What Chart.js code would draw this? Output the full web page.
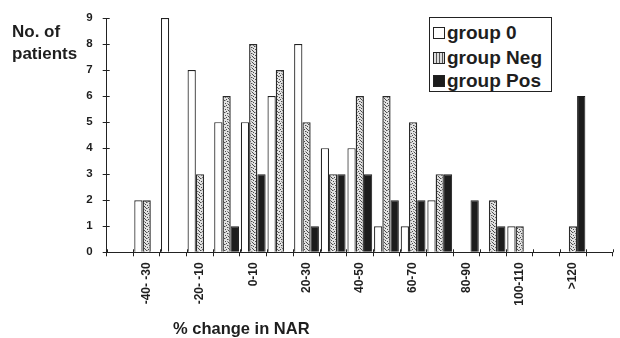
<!DOCTYPE html>
<html><head><meta charset="utf-8">
<script src="https://cdn.jsdelivr.net/npm/chart.js@4/dist/chart.umd.min.js"></script>
<style>
html,body{margin:0;padding:0;background:#fff;}
#wrap{position:relative;width:620px;height:338px;overflow:hidden;}
#c{position:absolute;left:0;top:0;}
.t{position:absolute;font-family:"Liberation Sans",Arial,sans-serif;font-weight:bold;color:#1e1e1e;white-space:nowrap;}
#legend{position:absolute;left:429px;top:17px;width:121px;height:73px;border:1.5px solid #222;background:#fff;font-family:"Liberation Sans",Arial,sans-serif;font-weight:bold;font-size:19px;color:#1e1e1e;}
#legend .row{position:absolute;left:3px;height:22px;line-height:22px;white-space:nowrap;}
#legend .sw{display:inline-block;width:10px;height:10px;border:1.2px solid #222;vertical-align:middle;margin-right:2px;position:relative;top:-1px;}
</style></head><body>
<div id="wrap">
<canvas id="c" width="620" height="338"></canvas>
<div class="t" style="left:12px;top:21px;font-size:17px;line-height:22px;">No. of<br>patients</div>
<div class="t" style="left:173px;top:319px;font-size:16.5px;">% change in NAR</div>
<div id="legend"></div>
</div>
<script>
// ---- data ----
const categories = ["-50- -40","-40- -30","-30- -20","-20- -10","-10- 0","0-10","10-20","20-30","30-40","40-50","50-60","60-70","70-80","80-90","90-100","100-110","110-120",">120",""];
const seriesNames = ["group 0","group Neg","group Pos"];
const group0   = [0,2,9,7,5,5,6,8,4,4,1,1,2,0,0,1,0,0,0];
const groupNeg = [0,2,0,3,6,8,7,5,3,6,6,5,3,0,2,1,0,1,0];
const groupPos = [0,0,0,0,1,3,0,1,3,3,2,2,3,2,1,0,0,6,0];
const yTicks = [0,1,2,3,4,5,6,7,8,9];

// stipple pattern for group Neg
function makePattern(){
  const p = document.createElement('canvas');
  p.width = 6; p.height = 6;
  const g = p.getContext('2d');
  g.fillStyle = '#e2e2e2'; g.fillRect(0,0,6,6);
  g.fillStyle = '#4a4a4a';
  const dots = [[1,0],[3,1],[0,2],[4,3],[2,4],[5,5],[1,3]];
  dots.forEach(d=>g.fillRect(d[0],d[1],1,1));
  g.fillStyle = '#9a9a9a';
  [[3,4],[5,1],[0,5]].forEach(d=>g.fillRect(d[0],d[1],1,1));
  return document.getElementById('c').getContext('2d').createPattern(p,'repeat');
}
const negPattern = makePattern();

const innerTicks = {
  id:'innerTicks',
  afterDraw(chart){
    const ctx = chart.ctx, x = chart.scales.x, y = chart.scales.y;
    ctx.save();
    ctx.strokeStyle = '#222'; ctx.lineWidth = 1;
    y.ticks.forEach((t,i)=>{
      const py = Math.round(y.getPixelForTick(i))+0.5;
      ctx.beginPath(); ctx.moveTo(y.right, py); ctx.lineTo(y.right+3, py); ctx.stroke();
    });
    const n = categories.length;
    for(let i=0;i<=n;i++){
      const px = Math.round(x.left + i*(x.right-x.left)/n)+0.5;
      ctx.beginPath(); ctx.moveTo(px, x.top); ctx.lineTo(px, x.top-3); ctx.stroke();
    }
    ctx.restore();
  }
};

const chart = new Chart(document.getElementById('c'), {
  type:'bar',
  data:{
    labels: categories,
    datasets:[
      {label:seriesNames[0], data:group0, backgroundColor:'#ffffff', borderColor:'#222', borderWidth:1.2},
      {label:seriesNames[1], data:groupNeg, backgroundColor:negPattern, borderColor:'#2a2a2a', borderWidth:1.4},
      {label:seriesNames[2], data:groupPos, backgroundColor:'#1c1c1c', borderColor:'#1c1c1c', borderWidth:1}
    ]
  },
  options:{
    responsive:false, animation:false, devicePixelRatio:1,
    layout:{padding:{top:18,right:0,bottom:0,left:0}},
    plugins:{legend:{display:false}, tooltip:{enabled:false}},
    datasets:{bar:{categoryPercentage:0.93, barPercentage:1.0}},
    scales:{
      x:{
        grid:{offset:true, drawOnChartArea:false, tickLength:4, color:'#222'},
        border:{color:'#222', width:1},
        ticks:{autoSkip:false, maxRotation:90, minRotation:90, padding:6, color:'#1e1e1e',
               font:{family:'"Liberation Sans", Arial, sans-serif', weight:'bold', size:12},
               callback:(v,i)=> (i%2===1 ? categories[i] : '')},
        afterFit:(s)=>{ s.height = 85.7; }
      },
      y:{
        min:0, max:9,
        afterBuildTicks:(s)=>{ s.ticks = yTicks.map(v=>({value:v})); },
        grid:{drawOnChartArea:false, tickLength:4, color:'#222'},
        border:{color:'#222', width:1},
        ticks:{padding:10, color:'#1e1e1e',
               font:{family:'"Liberation Sans", Arial, sans-serif', weight:'bold', size:11.5}},
        afterFit:(s)=>{ s.width = 106.7; }
      }
    }
  },
  plugins:[innerTicks]
});

// HTML legend built from the dataset labels
const legendEl = document.getElementById('legend');
const swStyles = ['background:#fff;',
  'background:repeating-linear-gradient(90deg,#ddd 0 2px,#555 2px 3px);',
  'background:#1c1c1c;'];
const rowTops = [4, 29, 52];
chart.data.datasets.forEach((ds,i)=>{
  const r = document.createElement('div');
  r.className='row'; r.style.top = rowTops[i]+'px';
  r.innerHTML = '<span class="sw" style="'+swStyles[i]+'"></span>'+ds.label;
  legendEl.appendChild(r);
});
</script>
</body></html>
